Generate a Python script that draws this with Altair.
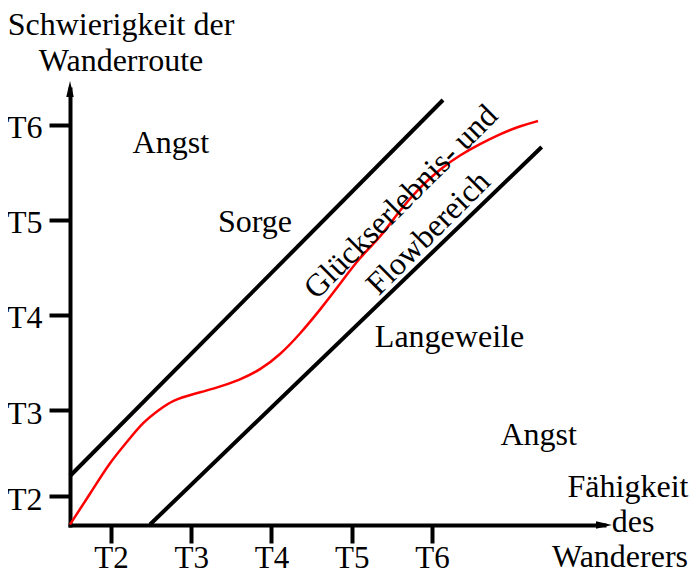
import altair as alt
import pandas as pd

# ---- axis ticks ----
x_ticks = [2, 3, 4, 5, 6]
y_ticks = [2.09, 3, 4, 5, 6]

# ---- red curve (Glückserlebnis / Flow) ----
curve_x = [1.489, 1.738, 1.988, 2.199, 2.399, 2.611, 2.773, 3.022, 3.271, 3.607,
           3.857, 4.106, 4.355, 4.604, 4.854, 5.103, 5.352, 5.601, 5.850, 6.100,
           6.349, 6.598, 6.847, 7.097, 7.321]
curve_y = [1.795, 2.116, 2.453, 2.663, 2.874, 3.011, 3.105, 3.168, 3.221, 3.316,
           3.421, 3.579, 3.800, 4.053, 4.326, 4.611, 4.811, 5.105, 5.347, 5.537,
           5.684, 5.800, 5.905, 5.989, 6.042]

# ---- black boundary lines ----
bound_x = [1.489, 2.486]
bound_y = [2.305, 1.795]
bound_x2 = [6.137, 7.367]
bound_y2 = [6.263, 5.768]

# ---- region / axis labels ----
label_text = ["Schwierigkeit der", "Wanderroute", "Angst", "Sorge", "Langeweile",
              "Angst", "Fähigkeit", "des", "Wanderers"]
label_x = [2.125, 2.125, 2.745, 3.794, 6.218, 7.330, 8.442, 8.505, 8.343]
label_y = [6.947, 6.568, 5.700, 4.874, 3.663, 2.632, 2.084, 1.716, 1.347]

rot_text = ["Glückserlebnis- und", "Flowbereich"]
rot_x = [5.700, 6.040]
rot_y = [5.116, 4.789]

# ---- arrow heads (at axis ends) ----
x_min, x_max = 1.4891, 8.1433
y_min, y_max = 1.7895, 6.3789

FONT = "Liberation Serif"
FS = 32

def xs():
    return alt.Scale(domain=[x_min, x_max], nice=False, zero=False, padding=0)

def ys():
    return alt.Scale(domain=[y_min, y_max], nice=False, zero=False, padding=0)

common_axis = dict(title=None, grid=False, domainWidth=4, domainColor="black",
                   domainCap="square", tickWidth=4, tickColor="black",
                   labelFont=FONT, labelColor="black",
                   labelFlush=False, labelOverlap=False)

curve_df = pd.DataFrame({"x": curve_x, "y": curve_y})
bound_df = pd.DataFrame({"x": bound_x, "y": bound_y, "x2": bound_x2, "y2": bound_y2})
label_df = pd.DataFrame({"t": label_text, "x": label_x, "y": label_y})
rot_df = pd.DataFrame({"t": rot_text, "x": rot_x, "y": rot_y})
arrow_y_df = pd.DataFrame({"x": [x_min], "y": [y_max]})
arrow_x_df = pd.DataFrame({"x": [x_max], "y": [y_min]})

curve = alt.Chart(curve_df).mark_line(color="#ff0000", strokeWidth=2.5,
                                      interpolate="basis").encode(
    x=alt.X("x:Q", scale=xs(),
            axis=alt.Axis(values=x_ticks, labelExpr="'T' + datum.value",
                          tickSize=18, labelBaseline="alphabetic", labelPadding=24,
                          labelFontSize=31, labelAlign="center", **common_axis)),
    y=alt.Y("y:Q", scale=ys(),
            axis=alt.Axis(values=y_ticks, labelExpr="'T' + round(datum.value)",
                          tickSize=21, labelBaseline="alphabetic", labelPadding=7,
                          labelFontSize=FS, labelOffset=13, labelAlign="right",
                          **common_axis)),
)

bounds = alt.Chart(bound_df).mark_rule(color="black", strokeWidth=4).encode(
    x=alt.X("x:Q", scale=xs()), y=alt.Y("y:Q", scale=ys()), x2="x2:Q", y2="y2:Q")

labels = alt.Chart(label_df).mark_text(font=FONT, fontSize=FS, color="black",
                                       align="center", baseline="alphabetic").encode(
    x=alt.X("x:Q", scale=xs()), y=alt.Y("y:Q", scale=ys()), text="t:N")

rot_labels = alt.Chart(rot_df).mark_text(font=FONT, fontSize=FS, color="black",
                                         align="center", baseline="alphabetic",
                                         angle=315).encode(
    x=alt.X("x:Q", scale=xs()), y=alt.Y("y:Q", scale=ys()), text="t:N")

arrow_up = alt.Chart(arrow_y_df).mark_point(
    shape="M 0 -1 L 0.47 1 L -0.47 1 Z", filled=True, color="black",
    size=256, opacity=1, strokeWidth=0).encode(
    x=alt.X("x:Q", scale=xs()), y=alt.Y("y:Q", scale=ys()))

arrow_right = alt.Chart(arrow_x_df).mark_point(
    shape="M 1 0 L -1 0.47 L -1 -0.47 Z", filled=True, color="black",
    size=256, opacity=1, strokeWidth=0).encode(
    x=alt.X("x:Q", scale=xs()), y=alt.Y("y:Q", scale=ys()))

chart = alt.layer(curve, bounds, labels, rot_labels, arrow_up, arrow_right).properties(
    width=534, height=436,
    background="white",
    autosize=alt.AutoSizeParams(type="none"),
    padding={"left": 62, "top": 81, "right": 86, "bottom": 44},
).configure_view(strokeWidth=0, stroke="transparent")

chart.save("out.html", embed_options={"renderer": "svg", "actions": False})
